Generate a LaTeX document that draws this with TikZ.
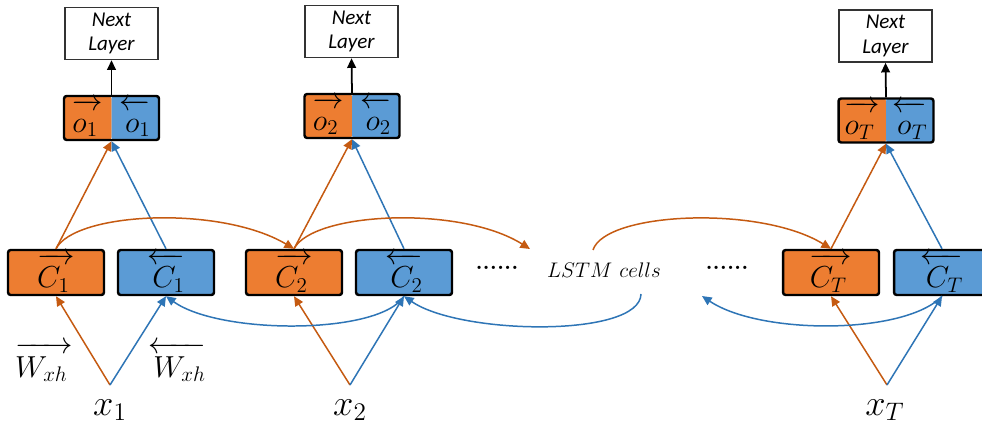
\documentclass[tikz,border=0pt]{standalone}
\usepackage{fontspec}
\newfontfamily\calib{Carlito}
\usetikzlibrary{arrows.meta}
\definecolor{orfill}{HTML}{ED7D31}
\definecolor{blfill}{HTML}{5B9BD5}
\definecolor{orline}{HTML}{C55A11}
\definecolor{blline}{HTML}{2E75B6}
\newcommand\fwv[1]{\overrightarrow{\rule{0pt}{0.8em}#1\,}}
\newcommand\bwv[1]{\overleftarrow{\rule{0pt}{0.8em}\,#1}}
\tikzset{
  tip/.style={-{Triangle[length=5.5pt,width=5pt]}},
  cellbox/.style={draw=black, line width=1.4pt, rounded corners=1.5pt, minimum width=1.92cm, minimum height=0.9cm, inner sep=0pt, font=\fontsize{18}{20}\selectfont},
  fwdcell/.style={cellbox, fill=orfill},
  bwdcell/.style={cellbox, fill=blfill},
  nextbox/.style={draw=black!80, line width=0.9pt, fill=white, minimum width=1.86cm, minimum height=1.04cm, inner sep=0pt, align=center, font=\calib\itshape\fontsize{12}{14}\selectfont},
  obox/.style={draw=black, line width=1.4pt, rounded corners=1.5pt, minimum width=1.9cm, minimum height=0.88cm, inner sep=0pt, font=\fontsize{17}{19}\selectfont,
    path picture={\fill[orfill] (path picture bounding box.south west) rectangle (path picture bounding box.north);
                  \fill[blfill] (path picture bounding box.south) rectangle (path picture bounding box.north east);}},
  oline/.style={draw=orline, line width=0.85pt, tip},
  bline/.style={draw=blline, line width=0.85pt, tip},
  kline/.style={draw=black, line width=1pt, tip},
  xlab/.style={inner sep=0pt, font=\fontsize{20}{22}\selectfont},
  wlab/.style={inner sep=0pt, font=\fontsize{18}{20}\selectfont},
  dotlab/.style={inner sep=0pt, font=\bfseries\fontsize{13}{15}\selectfont},
}
\newcommand\opair[2]{\makebox[0.95cm]{$\fwv{#1}$}\makebox[0.95cm]{$\bwv{#2}$}}
\begin{document}
\begin{tikzpicture}[x=0.02cm, y=-0.02cm]
\clip (0,0) rectangle (982,425);
\fill[white] (0,0) rectangle (982,425);

% group 1
\node[nextbox] (n1) at (111.5,33.5) {Next\\Layer};
\node[obox] (o1) at (111.5,118) {\opair{o_1}{o_1}};
\node[fwdcell] (c1f) at (56,272.5) {$\fwv{C_1}$};
\node[bwdcell] (c1b) at (166,272.5) {$\bwv{C_1}$};
\coordinate (x1a) at (110,385);
\node[xlab] (x1) at (110,410) {$x_1$};
\node[wlab] (w1f) at (44,362) {$\fwv{W_{xh}}$};
\node[wlab] (w1b) at (177,362) {$\bwv{W_{xh}}$};

% group 2
\node[nextbox] (n2) at (351.5,31.5) {Next\\Layer};
\node[obox] (o2) at (352,116) {\opair{o_2}{o_2}};
\node[fwdcell] (c2f) at (294,272.5) {$\fwv{C_2}$};
\node[bwdcell] (c2b) at (404,272.5) {$\bwv{C_2}$};
\coordinate (x2a) at (350,385);
\node[xlab] (x2) at (350,410) {$x_2$};

% middle
\node[dotlab] (d1) at (497,268) {......};
\node[inner sep=0pt, font=\fontsize{12.5}{15}\selectfont] (lstm) at (604,270) {$LSTM\ cells$};
\node[dotlab] (d2) at (727,268) {......};
\coordinate (lin) at (530,249);
\coordinate (lout) at (593,250);
\coordinate (lbin) at (641,294);
\coordinate (lbout) at (702,296);

% group T
\node[nextbox] (nT) at (885.5,36) {Next\\Layer};
\node[obox] (oT) at (886,120.5) {\opair{o_T}{o_T}};
\node[fwdcell] (cTf) at (831,272.5) {$\fwv{C_T}$};
\node[bwdcell] (cTb) at (942,272.5) {$\bwv{C_T}$};
\coordinate (xTa) at (887,385);
\node[xlab] (xT) at (885,410) {$x_T$};

% vertical connections
\draw[kline] (o1.north) -- (n1.south);
\draw[kline] (o2.north) -- (n2.south);
\draw[kline] (oT.north) -- (nT.south);

\draw[oline] (c1f.north) -- (o1.south);
\draw[bline] (c1b.north) -- (o1.south);
\draw[oline] (c2f.north) -- (o2.south);
\draw[bline] (c2b.north) -- (o2.south);
\draw[oline] (cTf.north) -- (oT.south);
\draw[bline] (cTb.north) -- (oT.south);

\draw[oline] (x1a) -- (c1f.south);
\draw[bline] (x1a) -- (c1b.south);
\draw[oline] (x2a) -- (c2f.south);
\draw[bline] (x2a) -- (c2b.south);
\draw[oline] (xTa) -- (cTf.south);
\draw[bline] (xTa) -- (cTb.south);

% recurrent forward (orange)
\draw[oline] (c1f.north) .. controls (75,212) and (220,205) .. (c2f.north);
\draw[oline] (c2f.north) .. controls (313,212) and (460,205) .. (lin);
\draw[oline] (lout) .. controls (605,212) and (760,205) .. (cTf.north);

% recurrent backward (blue)
\draw[bline] (c2b.south) .. controls (380,335) and (220,335) .. (c1b.south);
\draw[bline] (lbin) .. controls (640,338) and (460,335) .. (c2b.south);
\draw[bline] (cTb.south) .. controls (905,335) and (760,335) .. (lbout);
\end{tikzpicture}
\end{document}
